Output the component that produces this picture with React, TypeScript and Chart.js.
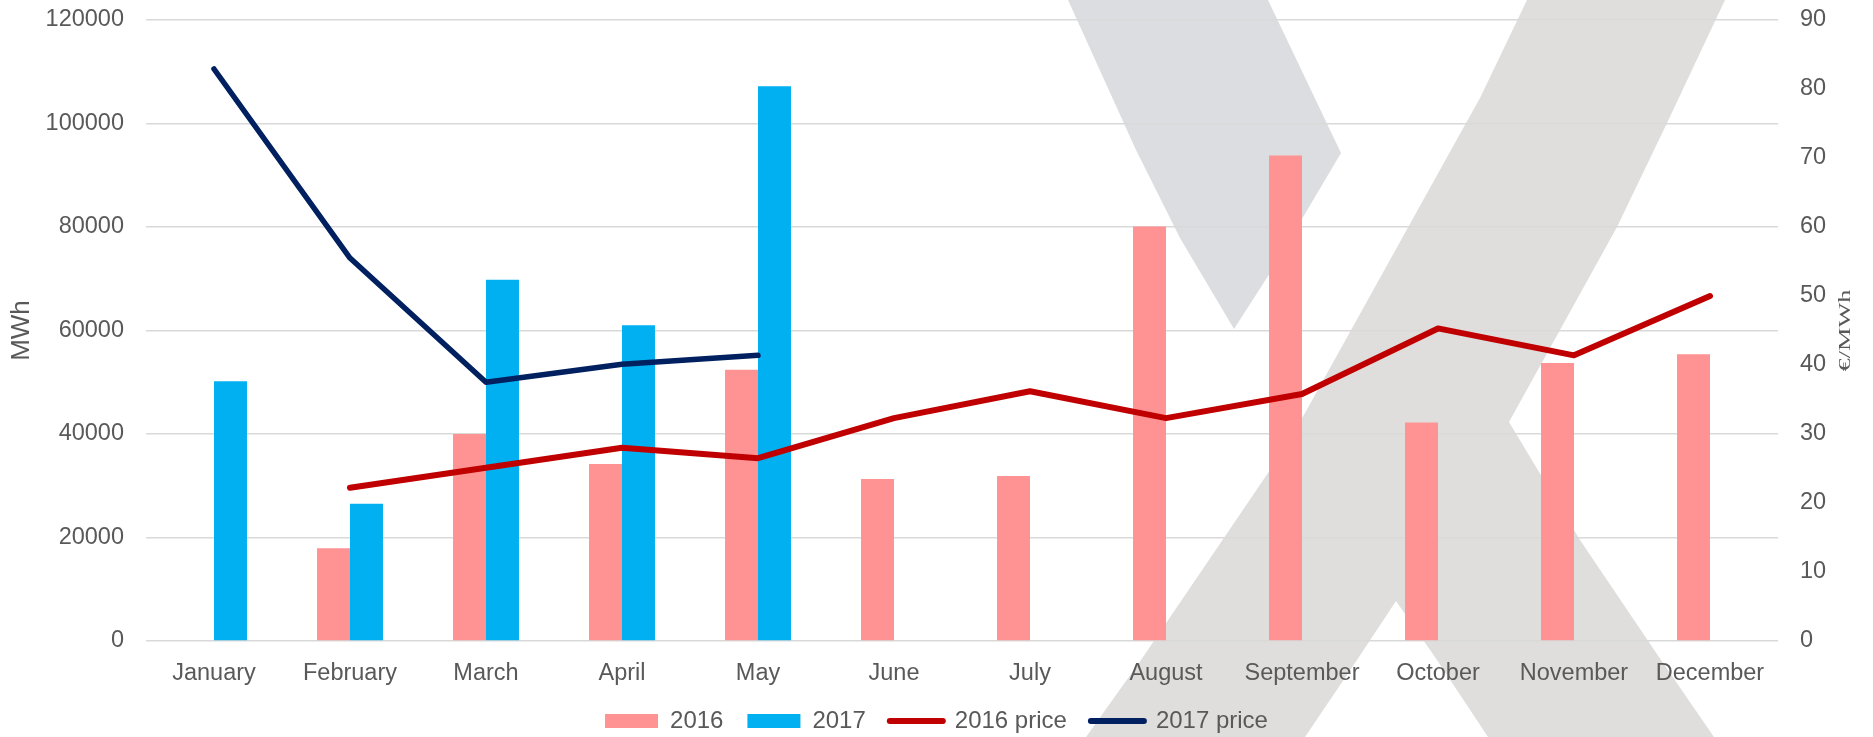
import React, { useEffect, useRef } from "react";
import { Chart, registerables } from "chart.js";

Chart.register(...registerables);

const MONTHS = ["January", "February", "March", "April", "May", "June", "July", "August", "September", "October", "November", "December"];
const MWH_2016 = [null, 17900, 40000, 34200, 52400, 31300, 31900, 80100, 93800, 42200, 53700, 55400];
const MWH_2017 = [50200, 26500, 69800, 61000, 107200, null, null, null, null, null, null, null];
const PRICE_2016 = [null, 22.2, 25.1, 28.0, 26.5, 32.3, 36.2, 32.3, 35.8, 45.3, 41.4, 50.0];
const PRICE_2017 = [82.9, 55.5, 37.5, 40.1, 41.4, null, null, null, null, null, null, null];
const SERIES_LABELS = ["2016", "2017", "2016 price", "2017 price"];
const LEFT_TITLE = "MWh";
const RIGHT_TITLE = "€/MWh";

const COLORS = {
  bar2016: "#FF9393",
  bar2017: "#00B0F0",
  price2016: "#C00000",
  price2017: "#002060",
  text: "#595959",
  grid: "#D9D9D9",
};

// decorative background watermark (canvas pixels)
const WATERMARK = [
  {
    color: "#DCDDE0",
    pts: [[1068, 0], [1268, 0], [1341, 153], [1270, 273], [1234, 329], [1180, 238], [1136, 150]],
  },
  {
    color: "#DFDEDC",
    pts: [
      [1527, 0], [1725, 0], [1667, 123], [1617, 227], [1560, 330], [1509, 422], [1580, 540], [1661, 660], [1714, 737],
      [1488, 737], [1437, 660], [1396, 601], [1357, 660], [1305, 737], [1086, 737], [1141, 660],
      [1268, 473], [1305, 413], [1451, 150], [1480, 98],
    ],
  },
];

const watermarkPlugin = {
  id: "watermark",
  beforeDraw(chart: any) {
    const ctx = chart.ctx;
    ctx.save();
    for (const shape of WATERMARK) {
      ctx.beginPath();
      shape.pts.forEach((p, i) => (i === 0 ? ctx.moveTo(p[0], p[1]) : ctx.lineTo(p[0], p[1])));
      ctx.closePath();
      ctx.fillStyle = shape.color;
      ctx.fill();
    }
    ctx.restore();
  },
};

const rightTitlePlugin = {
  id: "rightTitle",
  afterDraw(chart: any) {
    const s = chart.scales.y1;
    const ctx = chart.ctx;
    ctx.save();
    ctx.translate(s.right - 27, (s.top + s.bottom) / 2);
    ctx.rotate(-Math.PI / 2);
    ctx.scale(1.55, 1);
    ctx.font = '17px "Liberation Serif", "Times New Roman", serif';
    ctx.fillStyle = COLORS.text;
    ctx.textAlign = "center";
    ctx.textBaseline = "middle";
    ctx.fillText(RIGHT_TITLE, 0, 0);
    ctx.restore();
  },
};

export default function App() {
  const ref = useRef<HTMLCanvasElement>(null);

  useEffect(() => {
    document.body.style.margin = "0";
    const canvas = ref.current;
    if (!canvas) return;
    const font = { family: '"Liberation Sans", Arial, sans-serif', size: 23.5 };
    const plain = (v: any) => String(v);
    const fitVertical = (w: number) => (s: any) => {
      s.width = w;
      s.paddingTop = 0;
      s.paddingBottom = 0;
    };
    const chart = new Chart(canvas, {
      type: "bar",
      data: {
        labels: MONTHS,
        datasets: [
          { type: "bar", label: SERIES_LABELS[0], data: MWH_2016, backgroundColor: COLORS.bar2016, yAxisID: "y", order: 2 },
          { type: "bar", label: SERIES_LABELS[1], data: MWH_2017, backgroundColor: COLORS.bar2017, yAxisID: "y", order: 2 },
          {
            type: "line", label: SERIES_LABELS[2], data: PRICE_2016, borderColor: COLORS.price2016, backgroundColor: COLORS.price2016,
            borderWidth: 6, pointRadius: 0, borderCapStyle: "round", borderJoinStyle: "round", yAxisID: "y1", order: 1, tension: 0,
          },
          {
            type: "line", label: SERIES_LABELS[3], data: PRICE_2017, borderColor: COLORS.price2017, backgroundColor: COLORS.price2017,
            borderWidth: 5.5, pointRadius: 0, borderCapStyle: "round", borderJoinStyle: "round", yAxisID: "y1", order: 0, tension: 0,
          },
        ] as any,
      },
      options: {
        animation: false,
        responsive: false,
        devicePixelRatio: 1,
        layout: { padding: { top: 20, left: 0, right: 0, bottom: -6 } },
        datasets: { bar: { categoryPercentage: 0.485, barPercentage: 1 } } as any,
        scales: {
          x: {
            grid: { display: false, drawTicks: false },
            border: { display: false },
            ticks: { color: COLORS.text, font, padding: 18, autoSkip: false, maxRotation: 0 },
            afterFit: (s: any) => { s.height = 44; },
          },
          y: {
            position: "left",
            min: 0,
            max: 120000,
            ticks: { stepSize: 20000, color: COLORS.text, font, padding: 22, callback: plain },
            grid: { color: COLORS.grid, lineWidth: 1.5, drawTicks: false },
            border: { display: false },
            title: { display: true, text: LEFT_TITLE, color: COLORS.text, font: { family: font.family, size: 26 }, padding: { top: 6, bottom: 0 } },
            afterFit: fitVertical(146),
          },
          y1: {
            position: "right",
            min: 0,
            max: 90,
            ticks: { stepSize: 10, color: COLORS.text, font, padding: 22, callback: plain },
            grid: { drawOnChartArea: false, drawTicks: false },
            border: { display: false },
            afterFit: fitVertical(95),
          },
        },
        plugins: {
          tooltip: { enabled: false },
          legend: {
            position: "bottom",
            labels: {
              color: COLORS.text,
              font: { family: font.family, size: 24 },
              usePointStyle: true,
              pointStyleWidth: 53,
              boxHeight: 14,
              padding: 24,
              generateLabels: (c: any) =>
                c.data.datasets.map((ds: any, i: number) => {
                  const isLine = ds.type === "line";
                  return {
                    text: ds.label,
                    datasetIndex: i,
                    fillStyle: isLine ? ds.borderColor : ds.backgroundColor,
                    strokeStyle: isLine ? ds.borderColor : ds.backgroundColor,
                    lineWidth: isLine ? 6 : 0,
                    lineCap: "round",
                    pointStyle: isLine ? "line" : "rect",
                    fontColor: COLORS.text,
                    hidden: false,
                  };
                }),
            },
          },
        },
      } as any,
      plugins: [watermarkPlugin, rightTitlePlugin],
    });
    return () => chart.destroy();
  }, []);

  return (
    <div style={{ width: 1873, height: 737 }}>
      <canvas ref={ref} width={1873} height={737} style={{ display: "block" }} />
    </div>
  );
}
